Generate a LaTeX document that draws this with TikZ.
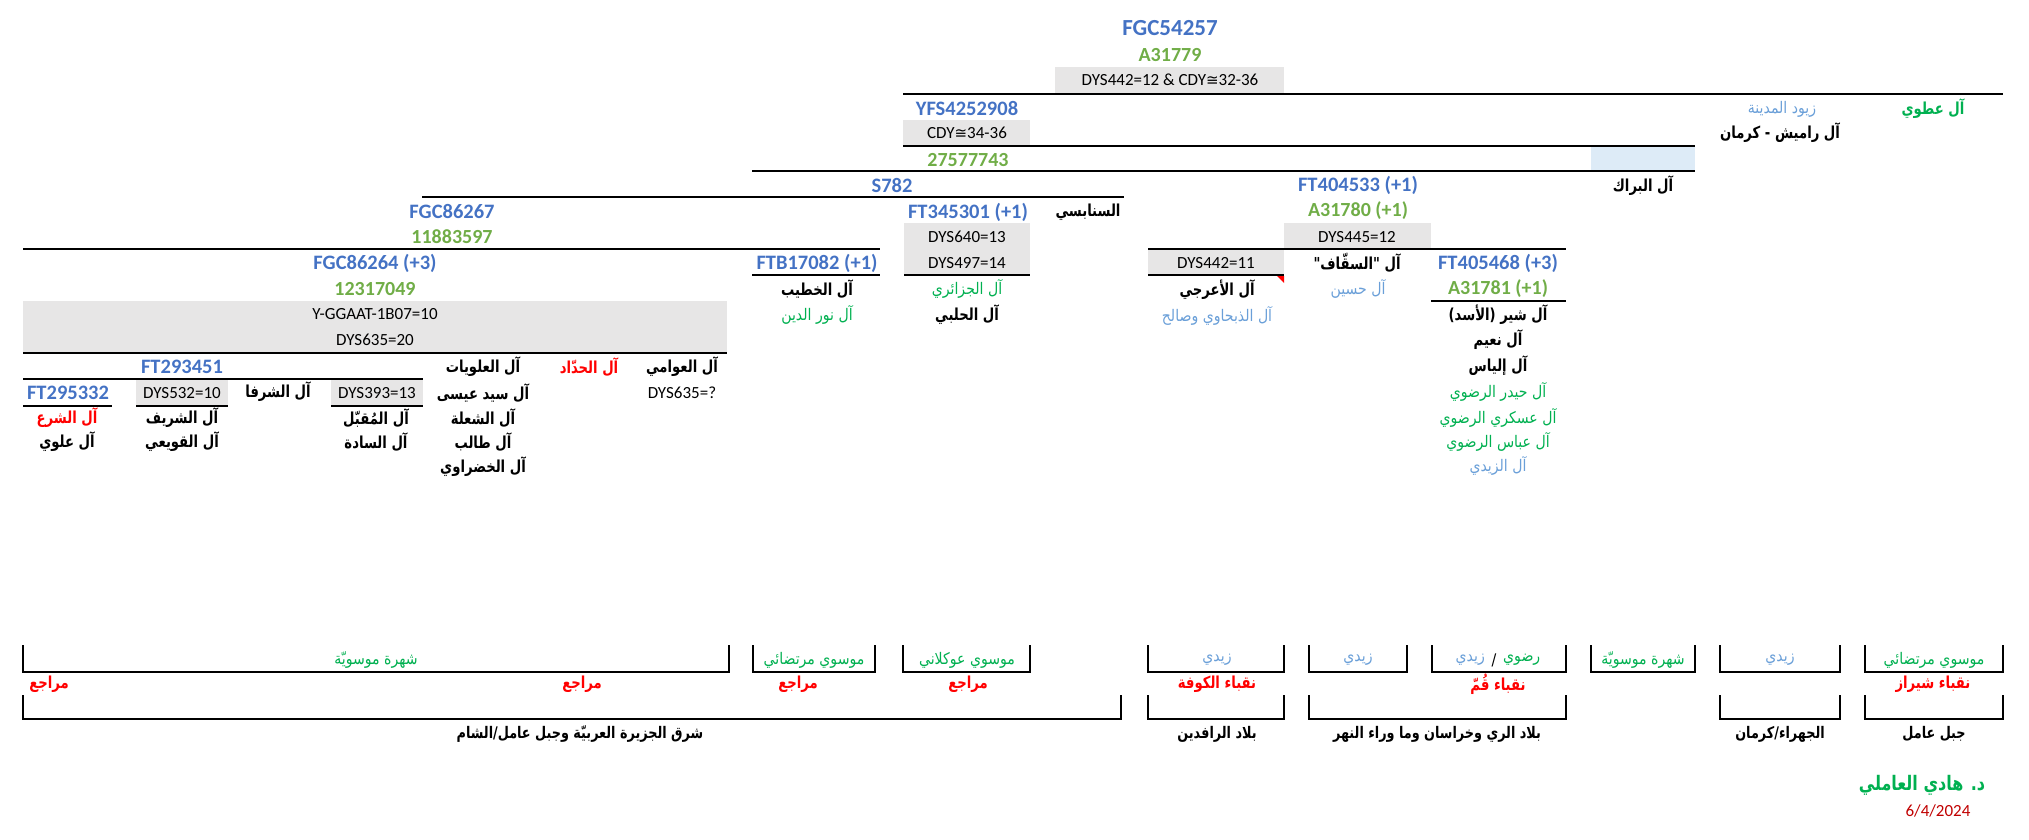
\documentclass[tikz,border=0pt]{standalone}
\usepackage{fontspec}
\setmainfont{Carlito}
\newfontfamily\arf[Script=Arabic, FakeStretch=0.88, BoldFeatures={FakeStretch=0.8}]{DejaVu Sans}
\newfontfamily\symf{DejaVu Sans}
\TeXXeTstate=1
\newcommand{\myR}[1]{\beginR#1\endR}
\definecolor{cblue}{HTML}{4472C4}
\definecolor{cgreen}{HTML}{70AD47}
\definecolor{cgreenA}{HTML}{00B050}
\definecolor{clight}{HTML}{6A9FD8}
\definecolor{cred}{HTML}{FF0000}
\definecolor{cdred}{HTML}{C00000}
\definecolor{cgrey}{HTML}{E7E6E6}
\definecolor{cpale}{HTML}{DDEBF7}
\tikzset{
  t/.style={inner sep=0pt, anchor=center},
  lat/.style={t, font=\fontsize{17}{17}\selectfont},
  code/.style={t, font=\bfseries\fontsize{20.5}{20.5}\selectfont, text=cblue},
  num/.style={t, font=\bfseries\fontsize{20}{20}\selectfont, text=cgreen},
  arb/.style={t, font=\arf\bfseries\fontsize{16.5}{16.5}\selectfont},
  arr/.style={t, font=\arf\fontsize{16}{16}\selectfont},
  region/.style={t, font=\arf\bfseries\fontsize{16}{16}\selectfont},
  rule/.style={line width=1.6pt},
  bracket/.style={line width=1.6pt},
  greybox/.style={fill=cgrey},
}
\begin{document}
\begin{tikzpicture}[x=1pt,y=-1pt]
\useasboundingbox (0,0) rectangle (2029,839);
% ---------- fills ----------
\fill[greybox] (1055,67) rectangle (1284,94);
\fill[greybox] (903,120) rectangle (1030,146);
\fill[cpale] (1591,146) rectangle (1695,171);
\fill[greybox] (904,223) rectangle (1030,275);
\fill[greybox] (1284,223) rectangle (1431,249);
\fill[greybox] (1148,249) rectangle (1284,275);
\fill[greybox] (23,301) rectangle (727,353);
\fill[greybox] (136,379) rectangle (228,406);
\fill[greybox] (331,379) rectangle (423,406);
\fill[cred] (1277,276) -- (1284,276) -- (1284,283) -- cycle;
% ---------- rules ----------
\draw[rule] (903,94) -- (2003,94);
\draw[rule] (903,146) -- (1695,146);
\draw[rule] (752,171) -- (1695,171);
\draw[rule] (422,197) -- (1124,197);
\draw[rule] (23,249) -- (880,249);
\draw[rule] (1148,249) -- (1566,249);
\draw[rule] (752,275) -- (880,275);
\draw[rule] (904,275) -- (1030,275);
\draw[rule] (1148,275) -- (1284,275);
\draw[rule] (1431,301) -- (1566,301);
\draw[rule] (23,353) -- (727,353);
\draw[rule] (23,379) -- (423,379);
\draw[rule] (23,406) -- (112,406);
\draw[rule] (136,406) -- (228,406);
\draw[rule] (331,406) -- (423,406);
% ---------- top ----------
\node[code, font=\bfseries\fontsize{23}{23}\selectfont] (fgc54257) at (1170,28) {FGC54257};
\node[num] (a31779) at (1170,55) {A31779};
\node[lat] (dys442a) at (1170,80) {DYS442=12 \& CDY{\symf\fontsize{15}{15}\selectfont ≅}32-36};
\node[code] (yfs) at (967,108) {YFS4252908};
\node[lat] (cdy) at (967,133) {CDY{\symf\fontsize{15}{15}\selectfont ≅}34-36};
\node[num] (n275) at (968,160) {27577743};
\node[code] (s782) at (892,185) {S782};
\node[code] (ft404533) at (1358,185) {FT404533 (+1)};
\node[arb] (barrak) at (1643,186) {\myR{آل البراك}};
\node[arr, text=clight] (zuyud) at (1782,109) {\myR{زيود المدينة}};
\node[arb, text=cgreenA] (atwi) at (1933,109) {\myR{آل عطوي}};
\node[arb] (ramish) at (1780,133) {\myR{آل راميش - كرمان}};
% ---------- middle ----------
\node[code] (fgc86267) at (452,211) {FGC86267};
\node[code] (ft345301) at (968,212) {FT345301 (+1)};
\node[arb] (sanabisi) at (1088,212) {\myR{السنابسي}};
\node[num] (a31780) at (1358,211) {A31780 (+1)};
\node[num] (n118) at (452,237) {11883597};
\node[lat] (dys640) at (967,237) {DYS640=13};
\node[lat] (dys445) at (1357,237) {DYS445=12};
\node[code] (fgc86264) at (375,263) {FGC86264 (+3)};
\node[code] (ftb17082) at (817,263) {FTB17082 (+1)};
\node[lat] (dys497) at (967,263) {DYS497=14};
\node[lat] (dys442b) at (1216,263) {DYS442=11};
\node[arb] (saqqaf) at (1357,263) {\myR{آل "السقّاف"}};
\node[code] (ft405468) at (1498,263) {FT405468 (+3)};
\node[num] (n123) at (375,289) {12317049};
\node[arb] (khatib) at (817,289) {\myR{آل الخطيب}};
\node[arr, text=cgreenA] (jazairi) at (967,289) {\myR{آل الجزائري}};
\node[arb] (araji) at (1217,290) {\myR{آل الأعرجي}};
\node[arr, text=clight] (husain) at (1358,289) {\myR{آل حسين}};
\node[num] (a31781) at (1498,289) {A31781 (+1)};
\node[lat] (ygg) at (375,314) {Y-GGAAT-1B07=10};
\node[lat] (dys635) at (375,340) {DYS635=20};
\node[arr, text=cgreenA] (nuraldin) at (817,315) {\myR{آل نور الدين}};
\node[arb] (halabi) at (967,315) {\myR{آل الحلبي}};
\node[arr, text=clight] (dhabhawi) at (1217,316) {\myR{آل الذبحاوي وصالح}};
\node[arb] (shir) at (1498,315) {\myR{آل شير (الأسد)}};
\node[arb] (naim) at (1498,340) {\myR{آل نعيم}};
\node[arb] (ilyas) at (1498,366) {\myR{آل إلياس}};
\node[arr, text=cgreenA] (haidar) at (1498,392) {\myR{آل حيدر الرضوي}};
\node[arr, text=cgreenA] (askari) at (1498,418) {\myR{آل عسكري الرضوي}};
\node[arr, text=cgreenA] (abbas) at (1498,442) {\myR{آل عباس الرضوي}};
\node[arr, text=clight] (zaidi) at (1498,466) {\myR{آل الزيدي}};
% ---------- left lower ----------
\node[code] (ft293451) at (182,367) {FT293451};
\node[arb] (alawiyat) at (483,367) {\myR{آل العلويات}};
\node[arb, text=cred] (haddad) at (589,367) {\myR{آل الحدّاد}};
\node[arb] (awami) at (682,367) {\myR{آل العوامي}};
\node[code] (ft295332) at (68,393) {FT295332};
\node[lat] (dys532) at (182,393) {DYS532=10};
\node[arb] (shurafa) at (278,392) {\myR{آل الشرفا}};
\node[lat] (dys393) at (377,393) {DYS393=13};
\node[arb] (sayyid) at (483,393) {\myR{آل سيد عيسى}};
\node[lat] (dys635q) at (682,393) {DYS635=?};
\node[arb, text=cred] (shara) at (67,418) {\myR{آل الشرع}};
\node[arb] (sharif) at (182,418) {\myR{آل الشريف}};
\node[arb] (muqbil) at (376,418) {\myR{آل المُقبّل}};
\node[arb] (shula) at (483,418) {\myR{آل الشعلة}};
\node[arb] (alawi) at (67,442) {\myR{آل علوي}};
\node[arb] (quwai) at (182,442) {\myR{آل القويعي}};
\node[arb] (sada) at (376,442) {\myR{آل السادة}};
\node[arb] (talib) at (483,442) {\myR{آل طالب}};
\node[arb] (khadrawi) at (483,467) {\myR{آل الخضراوي}};
% ---------- bottom brackets ----------
\foreach \a/\b in {23/729, 753/875, 903/1030, 1148/1284, 1309/1407, 1432/1566, 1591/1695, 1720/1840, 1865/2003}
  \draw[bracket] (\a,645) -- (\a,672) -- (\b,672) -- (\b,645);
\foreach \a/\b in {23/1121, 1148/1284, 1309/1566, 1720/1840, 1865/2003}
  \draw[bracket] (\a,695) -- (\a,719) -- (\b,719) -- (\b,695);
\node[arr, text=cgreenA] (b1) at (376,660) {\myR{شهرة موسويّة}};
\node[arr, text=cgreenA] (b2) at (814,660) {\myR{موسوي مرتضائي}};
\node[arr, text=cgreenA] (b3) at (967,660) {\myR{موسوي عوكلاني}};
\node[arr, text=clight] (b4) at (1217,660) {زيدي};
\node[arr, text=clight] (b5) at (1358,660) {زيدي};
\node[arr] (b6s) at (1494,660) {/};
\node[arr, text=cgreenA, anchor=west] (b6r) at (1503,660) {رضوي};
\node[arr, text=clight, anchor=east] (b6z) at (1485,660) {زيدي};
\node[arr, text=cgreenA] (b7) at (1643,660) {\myR{شهرة موسويّة}};
\node[arr, text=clight] (b8) at (1780,660) {زيدي};
\node[arr, text=cgreenA] (b9) at (1934,660) {\myR{موسوي مرتضائي}};
\node[arb, text=cred] (m1) at (49,684) {مراجع};
\node[arb, text=cred] (m2) at (582,684) {مراجع};
\node[arb, text=cred] (m3) at (798,684) {مراجع};
\node[arb, text=cred] (m4) at (968,684) {مراجع};
\node[arb, text=cred] (nk) at (1217,684) {\myR{نقباء الكوفة}};
\node[arb, text=cred] (nq) at (1498,684) {\myR{نقباء قُمّ}};
\node[arb, text=cred] (ns) at (1933,684) {\myR{نقباء شيراز}};
\node[region] (g1) at (580,734) {\myR{شرق الجزيرة العربيّة وجبل عامل/الشام}};
\node[region] (g2) at (1217,734) {\myR{بلاد الرافدين}};
\node[region] (g3) at (1437,734) {\myR{بلاد الري وخراسان وما وراء النهر}};
\node[region] (g4) at (1780,734) {\myR{الجهراء/كرمان}};
\node[region] (g5) at (1934,734) {\myR{جبل عامل}};
% ---------- signature ----------
\node[arb, text=cgreenA, font=\arf\bfseries\fontsize{20}{20}\selectfont] (sig) at (1922,785) {\myR{د. هادي العاملي}};
\node[lat, text=cdred] (date) at (1938,811) {6/4/2024};
\end{tikzpicture}
\end{document}
